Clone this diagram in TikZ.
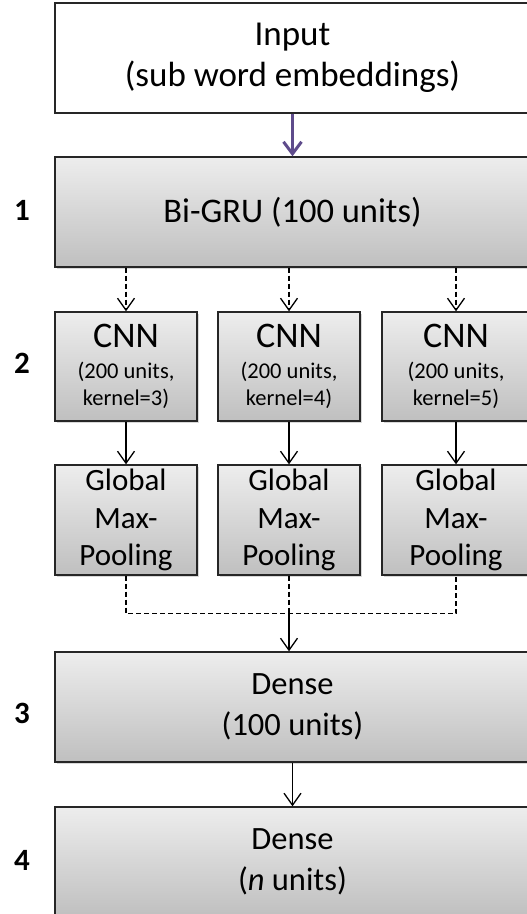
\documentclass[tikz,border=0pt]{standalone}
\usepackage{fontspec}
\setmainfont{Carlito}
\usetikzlibrary{positioning, arrows.meta, shadows}

\definecolor{arrowpurple}{HTML}{5E4B8B}
\newcommand{\cnnsmall}{\fontsize{22.5}{26}\selectfont}

\tikzset{
    layer/.style={
        rectangle,
        draw=black!85,
        line width=1.4pt,
        top color=gray!14,
        bottom color=gray!50,
        drop shadow={opacity=0.3, shadow xshift=1.5pt, shadow yshift=-2pt},
        align=center,
        inner sep=0pt
    },
    inbox/.style={
        rectangle,
        draw=black!85,
        line width=1.2pt,
        fill=white,
        align=center,
        minimum width=475pt,
        minimum height=110pt,
        font=\fontsize{35}{41}\selectfont
    },
    bigbox/.style={
        layer,
        minimum width=475pt,
        minimum height=110pt,
        font=\fontsize{34.5}{41}\selectfont
    },
    densebox/.style={
        bigbox,
        font=\fontsize{32.5}{41}\selectfont
    },
    cnnbox/.style={
        layer,
        minimum width=142pt,
        minimum height=109pt,
        font=\fontsize{36}{31}\selectfont
    },
    poolbox/.style={
        layer,
        minimum width=142pt,
        minimum height=110pt,
        font=\fontsize{31}{37.5}\selectfont
    },
    num/.style={font=\fontsize{31}{34}\selectfont\bfseries},
    arrow/.style={line width=1.3pt, -{Straight Barb[length=12pt,width=17pt]}},
    dasharrow/.style={arrow, dash pattern=on 5pt off 3pt},
    dashline/.style={line width=1.4pt, dash pattern=on 5pt off 3pt},
    inarrow/.style={line width=3pt, draw=arrowpurple, -{Straight Barb[length=12pt,width=18pt]}}
}

\begin{document}
\begin{tikzpicture}[x=1pt, y=1pt, node distance=154pt]
\useasboundingbox (0,0) rectangle (527,-914);
\clip (0,0) rectangle (527,-914);

\node (input) [inbox] at (292.5,-58) {Input\\(sub word embeddings)};

\node (bigru) [bigbox, below of=input] {Bi-GRU (100 units)};

\node (cnn1) [cnnbox] at (126,-366.5)
{CNN\\\cnnsmall (200 units,\\[-4pt]\cnnsmall kernel=3)};
\node (cnn2) [cnnbox] at (289,-366.5)
{CNN\\\cnnsmall (200 units,\\[-4pt]\cnnsmall kernel=4)};
\node (cnn3) [cnnbox, minimum width=148pt] at (456,-366.5)
{CNN\\\cnnsmall (200 units,\\[-4pt]\cnnsmall kernel=5)};

\node (pool1) [poolbox, below of=cnn1, node distance=153.5pt] {Global\\Max-\\Pooling};
\node (pool2) [poolbox, below of=cnn2, node distance=153.5pt] {Global\\Max-\\Pooling};
\node (pool3) [poolbox, below of=cnn3, node distance=153.5pt, minimum width=148pt] {Global\\Max-\\Pooling};

\node (dense1) [densebox] at (292.5,-707) {Dense\\(100 units)};
\node (dense2) [densebox, below of=dense1, node distance=155pt] {Dense\\(\textit{n} units)};

% layer numbers
\node (num1) [num] at (22,-210) {1};
\node (num2) [num] at (22,-363) {2};
\node (num3) [num] at (22,-713) {3};
\node (num4) [num] at (22,-860) {4};

\coordinate [below=38pt of pool2.south] (merge);

\draw [inarrow] (input) -- (bigru);
\foreach \i in {1,2,3}
    \draw [dasharrow] (bigru.south -| cnn\i) -- (cnn\i);
\foreach \i in {1,2,3}
    \draw [arrow] (cnn\i) -- (pool\i);
\draw [dashline] (pool1) |- (merge) -| (pool3);
\draw [dashline] (pool2) -- (merge);
\draw [arrow] (merge) -- (merge |- dense1.north);
\draw [arrow] (dense1) -- (dense2);

\end{tikzpicture}
\end{document}
